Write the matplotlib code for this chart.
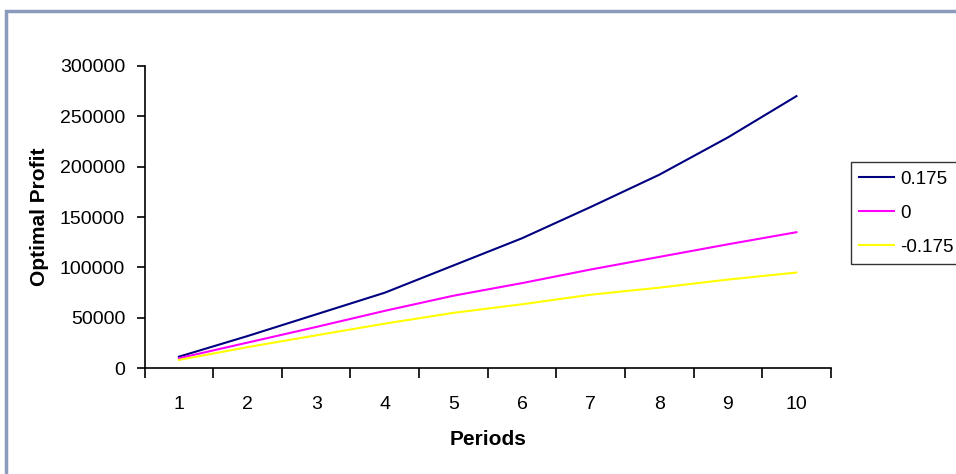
import matplotlib.pyplot as plt
from matplotlib.patches import Rectangle

plt.rcParams['font.family'] = ['Liberation Sans', 'DejaVu Sans']

periods = [1, 2, 3, 4, 5, 6, 7, 8, 9, 10]
profit_pos = [11500, 32000, 53500, 75000, 102000, 129000, 160000, 192000, 229000, 270000]
profit_zero = [10000, 25500, 41000, 57000, 72000, 84500, 98000, 110500, 123000, 135000]
profit_neg = [8300, 21000, 32700, 44300, 55000, 63500, 73000, 80000, 88000, 95000]
labels = ['0.175', '0', '-0.175']

fig = plt.figure(figsize=(9.56, 4.74), dpi=100)
ax = fig.add_axes([0.1513, 0.223, 0.7177, 0.638])

ax.plot(periods, profit_pos, color='#000080', lw=1.5, label=labels[0])
ax.plot(periods, profit_zero, color='#FF00FF', lw=1.5, label=labels[1])
ax.plot(periods, profit_neg, color='#FFFF00', lw=1.5, label=labels[2])

ax.set_xlim(0.5, 10.5)
ax.set_ylim(0, 300000)
ax.set_yticks(range(0, 300001, 50000))
ax.set_xticks(periods)
ax.set_xticks([p - 0.5 for p in periods] + [10.5], minor=True)
ax.tick_params(axis='x', which='major', length=0, pad=20, labelsize=14)
ax.tick_params(axis='x', which='minor', length=7, width=1.2, direction='out')
ax.tick_params(axis='y', length=6, width=1.2, pad=8, labelsize=14)

for s in ['top', 'right']:
    ax.spines[s].set_visible(False)
for s in ['left', 'bottom']:
    ax.spines[s].set_linewidth(1.2)

ax.set_xlabel('Periods', fontsize=15, fontweight='bold', labelpad=12)
ax.set_ylabel('Optimal Profit', fontsize=15, fontweight='bold', labelpad=8)

leg = fig.legend(loc='upper left', bbox_to_anchor=(0.890, 0.658), fontsize=13.5,
                 frameon=True, fancybox=False, handlelength=1.85,
                 handletextpad=0.35, labelspacing=0.9, borderpad=0.45,
                 borderaxespad=0)
leg.get_frame().set_edgecolor('black')
leg.get_frame().set_linewidth(1.0)

# outer chart border, only its left and top edges fall inside the image
fig.patches.append(Rectangle((6 / 956, -0.2), 1.2, 1.2 - 11 / 474,
                             transform=fig.transFigure, fill=False,
                             edgecolor='#8C9BBC', lw=2.5))

fig.savefig('out.png', dpi=100)
